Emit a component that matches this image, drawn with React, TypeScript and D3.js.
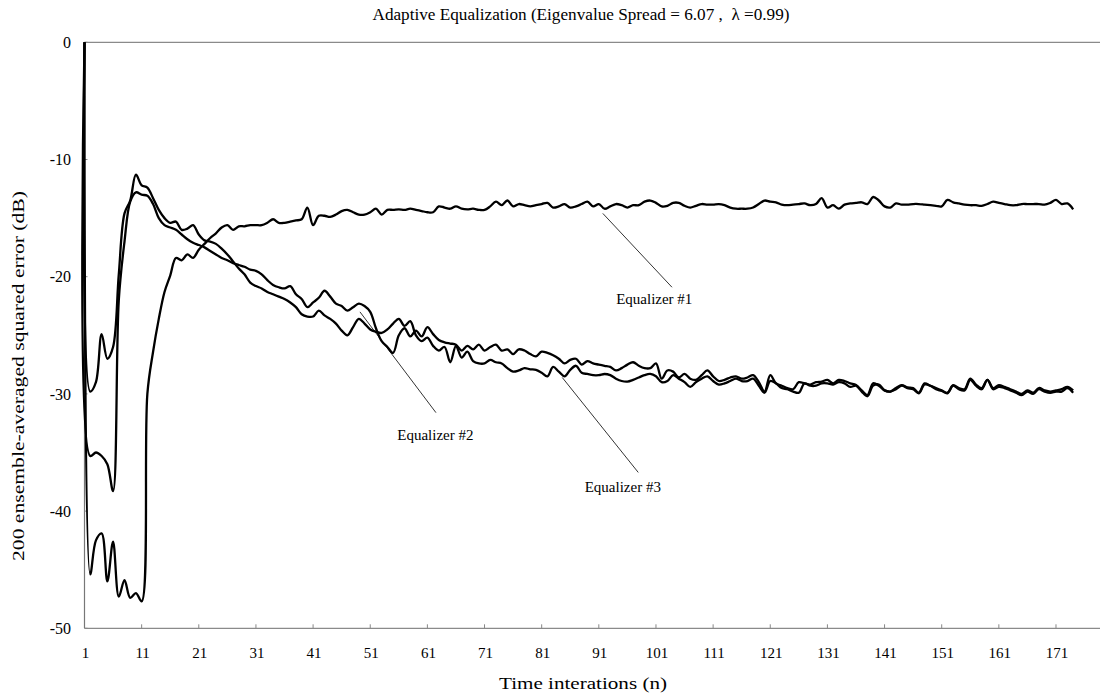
import * as d3 from "d3";

// iteration index n = 1..174 (category axis)
const iterations = d3.range(1, 175);
const xTickLabels = [1, 11, 21, 31, 41, 51, 61, 71, 81, 91, 101, 111, 121, 131, 141, 151, 161, 171];
const yTickValues = [0, -10, -20, -30, -40, -50];

const eq1 = [
  0, -45.4, -42.5, -41.9, -46.0, -42.6, -47.3, -45.9, -47.4, -47.0, -47.7,
  -30.0, -26.4, -23.6, -21.3, -19.9, -18.4, -18.6, -18.1, -18.4, -17.7,
  -17.2, -16.7, -16.3, -15.8, -15.6, -16.0, -15.7, -15.7, -15.6, -15.6,
  -15.6, -15.4, -15.1, -15.4, -15.4, -15.3, -15.2, -15.1, -14.1, -15.6,
  -14.8, -14.8, -14.9, -14.7, -14.4, -14.3, -14.5, -14.7, -14.7, -14.5,
  -14.2, -14.7, -14.3, -14.3, -14.25, -14.3, -14.2, -14.3, -14.4, -14.5,
  -14.5, -14.0, -14.1, -14.2, -14.0, -14.2, -14.25, -14.2, -14.3, -14.3,
  -14.0, -13.6, -13.9, -13.5, -14.0, -13.8, -13.9, -14.0, -13.9, -13.8,
  -13.7, -14.1, -14.0, -13.8, -14.1, -14.0, -13.8, -13.6, -14.0, -13.8,
  -14.2, -14.0, -13.8, -13.9, -14.1, -13.9, -13.9, -13.6, -13.5, -13.7,
  -14.0, -13.95, -13.7, -13.7, -13.95, -14.1, -13.95, -13.8, -13.85, -13.85,
  -13.8, -13.9, -14.1, -14.2, -14.2, -14.2, -14.1, -13.8, -13.5, -13.6,
  -13.65, -13.85, -13.9, -13.85, -13.8, -13.75, -13.9, -13.8, -13.3, -14.1,
  -13.9, -14.2, -13.85, -13.75, -13.7, -13.65, -13.8, -13.2, -13.5, -14.0,
  -14.1, -13.75, -13.85, -13.85, -13.8, -13.8, -13.85, -13.9, -13.95, -14.0,
  -13.45, -13.65, -13.75, -13.85, -13.9, -13.9, -13.95, -13.8, -13.6, -13.7,
  -13.8, -13.9, -13.9, -13.8, -13.8, -13.8, -13.8, -13.85, -13.7, -13.45,
  -13.8, -13.75, -14.25,
];

const eq2 = [
  0, -35.3, -35.0, -35.3, -36.0, -38.3, -22.0, -17.0, -13.6, -12.8, -13.0,
  -13.1, -13.8, -15.0, -15.6, -15.8, -16.0, -16.4, -16.8, -17.1, -17.3,
  -17.5, -17.8, -18.1, -18.4, -18.6, -18.85, -19.0, -19.15, -19.4, -19.5,
  -19.8, -20.3, -20.7, -20.9, -21.0, -20.8, -21.5, -21.9, -22.6, -22.2,
  -21.8, -21.2, -21.7, -22.3, -22.5, -22.9, -22.6, -22.3, -22.5, -23.0,
  -24.4, -25.5, -26.0, -26.5, -25.0, -24.4, -25.1, -24.6, -25.1, -24.3,
  -24.9, -25.4, -25.6, -25.7, -25.8, -26.3, -25.9, -26.2, -25.8, -26.3,
  -26.0, -25.8, -26.3, -26.2, -26.6, -26.2, -26.3, -26.6, -26.8, -26.4,
  -26.5, -26.7, -27.0, -27.4, -27.1, -27.0, -27.5, -27.2, -27.4, -27.5,
  -27.6, -27.7, -28.0, -27.8, -27.5, -27.3, -27.6, -27.8, -27.8, -27.4,
  -28.7, -28.0, -28.1, -28.6, -28.3, -28.7, -28.8, -28.4, -28.0, -28.5,
  -28.9, -28.8, -28.6, -28.5, -28.7, -28.6, -28.4, -29.0, -29.8, -28.4,
  -29.1, -29.3, -29.5, -29.6, -29.0, -29.1, -29.2, -29.0, -28.95, -28.8,
  -29.1, -28.8, -28.9, -29.1, -29.25, -29.7, -30.1, -29.1, -29.3, -29.7,
  -29.8, -29.5, -29.25, -29.45, -29.5, -29.9, -29.1, -29.3, -29.5, -29.7,
  -29.9, -29.25, -29.5, -29.6, -28.7, -29.2, -29.5, -28.8, -29.5, -29.25,
  -29.4, -29.6, -29.8, -30.0, -29.7, -29.9, -29.5, -29.7, -29.8, -29.7,
  -29.6, -29.4, -29.7,
];

const eq3 = [
  0, -29.8, -29.0, -24.9, -27.0, -26.0, -19.8, -14.6, -13.5, -11.3, -12.2,
  -12.4, -13.3, -14.3, -15.0, -15.4, -15.3, -16.0, -15.9, -15.6, -16.4,
  -16.9, -17.0, -17.2, -17.6, -18.1, -18.7, -19.3, -19.8, -20.5, -20.8,
  -21.0, -21.3, -21.5, -21.7, -21.9, -22.2, -22.6, -23.2, -23.4, -23.4,
  -22.9, -23.3, -23.6, -24.0, -24.6, -25.0, -24.3, -23.6, -24.0, -24.5,
  -24.7, -24.8, -24.5, -24.0, -23.6, -24.2, -23.8, -25.0, -25.5, -25.2,
  -25.9, -26.3, -26.0, -27.3, -25.9, -26.9, -26.4, -27.2, -27.4, -27.4,
  -27.1, -27.3, -27.4, -27.8, -28.1, -28.0, -27.8, -27.9, -27.95, -28.2,
  -28.5, -27.7, -28.1, -28.5, -27.95, -27.6, -28.2, -28.3, -28.4, -28.4,
  -28.3, -28.4, -28.7, -28.9, -28.95, -28.8, -28.6, -28.4, -28.3, -28.5,
  -29.0, -28.9, -28.4, -28.7, -29.0, -29.4, -29.0, -28.7, -28.5, -28.9,
  -29.2, -29.1, -28.9, -28.7, -28.9, -28.9, -28.7, -29.3, -29.9, -28.9,
  -29.1, -29.5, -29.6, -29.8, -29.9, -29.1, -29.3, -29.3, -29.1, -29.1,
  -29.2, -29.0, -29.1, -29.4, -29.3, -29.8, -30.2, -29.3, -29.2, -29.7,
  -29.8, -29.6, -29.3, -29.5, -29.6, -29.95, -29.2, -29.3, -29.6, -29.75,
  -29.95, -29.3, -29.6, -29.7, -28.8, -29.3, -29.6, -28.8, -29.6, -29.4,
  -29.5, -29.7, -29.9, -30.1, -29.8, -30.0, -29.6, -29.8, -29.9, -29.8,
  -29.8, -29.5, -29.9,
];

// annotation: leader from [n, dB] to [n, dB], label at [n, dB]
const labels = [
  { text: "Equalizer #1", from: [91.7, -14.6], to: [103.8, -20.9], at: [100.7, -22.3] },
  { text: "Equalizer #2", from: [49.2, -23.0], to: [62.5, -31.6], at: [62.4, -33.9] },
  { text: "Equalizer #3", from: [84.6, -28.6], to: [97.9, -36.7], at: [95.2, -38.4] },
];

const W = 1100, H = 696;
const FONT = "'Liberation Serif', 'DejaVu Serif', serif";

export default function App() {
  const x = d3.scaleLinear().domain([1, 178.7]).range([84.5, 1100]);
  const y = d3.scaleLinear().domain([-50, 0]).range([628.3, 42.3]);

  const line = d3.line<number>()
    .x((d, i) => x(iterations[i]))
    .y(d => y(d))
    .curve(d3.curveCatmullRom.alpha(0.5));

  const series = [eq1, eq2, eq3];

  return (
    <svg width={W} height={H} style={{ position: "absolute", left: 0, top: 0, background: "#fff" }} fontFamily={FONT}>
      <text x={581} y={20} textAnchor="middle" fontSize={16} textLength={417} lengthAdjust="spacingAndGlyphs"
        style={{ whiteSpace: "pre" }}>
        {"Adaptive Equalization (Eigenvalue Spread = 6.07 ,  \u03bb =0.99)"}
      </text>

      {/* frame */}
      <line x1={x(1)} x2={W} y1={y(0)} y2={y(0)} stroke="#8a8a8a" strokeWidth={1.2} />
      <line x1={x(1)} x2={W} y1={y(-50)} y2={y(-50)} stroke="#8a8a8a" strokeWidth={1.2} />
      <line x1={x(1)} x2={x(1)} y1={y(0)} y2={y(-50)} stroke="#777" strokeWidth={1.2} />

      {yTickValues.map(v => (
        <g key={v}>
          <line x1={x(1)} x2={x(1) + 3} y1={y(v)} y2={y(v)} stroke="#888" />
          <text x={71} y={y(v)} dy="0.36em" textAnchor="end" fontSize={16}>{v}</text>
        </g>
      ))}

      {xTickLabels.map(v => (
        <g key={v}>
          {v > 1 && <line x1={x(v)} x2={x(v)} y1={y(-50)} y2={y(-50) - 4} stroke="#888" />}
          <text x={x(v) + 1} y={658} textAnchor="middle" fontSize={15}>{v}</text>
        </g>
      ))}

      <text x={583} y={689} textAnchor="middle" fontSize={17} textLength={168} lengthAdjust="spacingAndGlyphs">
        Time interations (n)
      </text>
      <text transform={`translate(24, 376) rotate(-90)`} textAnchor="middle" fontSize={17}
        textLength={370} lengthAdjust="spacingAndGlyphs">
        200 ensemble-averaged squared error (dB)
      </text>

      {series.map((s, i) => (
        <path key={i} d={line(s) || ""} fill="none" stroke="#000" strokeWidth={2.3} strokeLinejoin="round" />
      ))}

      {labels.map(l => (
        <g key={l.text}>
          <line x1={x(l.from[0])} y1={y(l.from[1])} x2={x(l.to[0])} y2={y(l.to[1])} stroke="#000" strokeWidth={0.8} />
          <text x={x(l.at[0])} y={y(l.at[1])} textAnchor="middle" fontSize={15}>{l.text}</text>
        </g>
      ))}
    </svg>
  );
}
